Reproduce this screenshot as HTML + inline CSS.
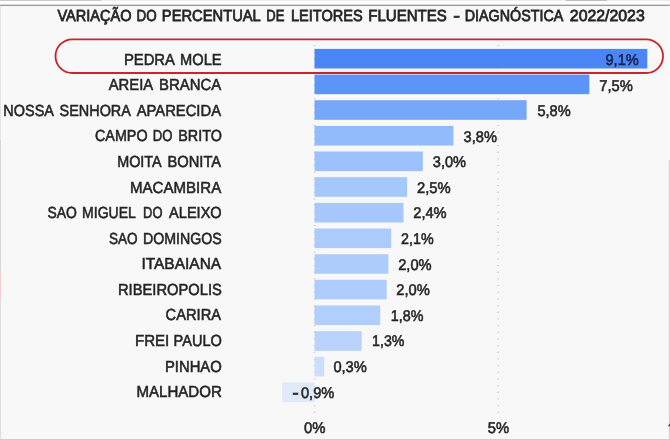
<!DOCTYPE html>
<html><head><meta charset="utf-8"><title>chart</title>
<style>
html,body{margin:0;padding:0;background:#f8f8f8;}
body{width:670px;height:440px;overflow:hidden;position:relative;font-family:"Liberation Sans",sans-serif;}
svg{position:absolute;left:0;top:0;display:block;will-change:transform;transform:translateZ(0)}
text{text-rendering:geometricPrecision;font-family:"Liberation Sans",sans-serif;font-size:16px;fill:#242424;stroke:#242424;stroke-width:0.55px;}
text.t{stroke-width:0.75px}
text.n{fill:#1a2248;stroke:#1a2248}
text.v{font-size:15.5px}
</style></head><body>
<svg width="670" height="440" viewBox="0 0 670 440">
<rect x="0" y="0" width="670" height="5" fill="#fdfdfd"/>
<rect x="0" y="0" width="101" height="1" fill="#cacaca"/>
<rect x="101" y="0" width="569" height="0.9" fill="#ebebeb"/>
<rect x="566" y="0" width="41" height="0.8" fill="#b9b0a8"/>
<rect x="0" y="4.7" width="670" height="1.2" fill="#909090"/>
<rect x="0" y="439" width="670" height="1" fill="#cecece"/>
<rect x="0" y="5.6" width="0.8" height="135" fill="#e0e0e0"/>
<rect x="0" y="140" width="0.8" height="130" fill="#cfcfcf"/>
<rect x="0" y="270" width="0.9" height="29" fill="#f2c9cd"/>
<rect x="0" y="299" width="0.8" height="140" fill="#d8d8d8"/>
<rect x="669.2" y="5.6" width="0.8" height="155" fill="#fcfcfc"/>
<rect x="668.9" y="160" width="0.9" height="279" fill="#c9c9c9"/>
<line x1="314.6" y1="45" x2="314.6" y2="413.2" stroke="#bcbcbc" stroke-width="1.4" stroke-dasharray="1 5.67"/>
<line x1="498.2" y1="45" x2="498.2" y2="413.2" stroke="#bcbcbc" stroke-width="1.4" stroke-dasharray="1 5.67"/>
<rect x="314.5" y="48.9" width="332.8" height="19.6" fill="#4c85f6"/>
<rect x="314.5" y="74.6" width="274.8" height="19.6" fill="#5c94f8"/>
<rect x="314.5" y="100.2" width="212.1" height="19.6" fill="#76a8fa"/>
<rect x="314.5" y="125.9" width="138.9" height="19.6" fill="#92bbfb"/>
<rect x="314.5" y="151.5" width="108.4" height="19.6" fill="#9dc2fb"/>
<rect x="314.5" y="177.2" width="92.6" height="19.6" fill="#a4c7fc"/>
<rect x="314.5" y="202.9" width="89.0" height="19.6" fill="#a6c8fc"/>
<rect x="314.5" y="228.5" width="76.7" height="19.6" fill="#abcbfc"/>
<rect x="314.5" y="254.2" width="73.9" height="19.6" fill="#adccfc"/>
<rect x="314.5" y="279.8" width="72.2" height="19.6" fill="#aeccfc"/>
<rect x="314.5" y="305.5" width="65.7" height="19.6" fill="#b1cefc"/>
<rect x="314.5" y="331.2" width="47.2" height="19.6" fill="#b9d3fc"/>
<rect x="314.5" y="356.8" width="9.7" height="19.6" fill="#cbdefc"/>
<rect x="282.0" y="382.5" width="32.5" height="19.6" fill="#dfe9fa"/>
<text x="57.40" y="20.50" textLength="74.11" lengthAdjust="spacingAndGlyphs" class="t">VARIAÇÃO</text>
<text x="136.47" y="20.50" textLength="20.13" lengthAdjust="spacingAndGlyphs" class="t">DO</text>
<text x="161.86" y="20.50" textLength="98.91" lengthAdjust="spacingAndGlyphs" class="t">PERCENTUAL</text>
<text x="266.29" y="20.50" textLength="18.14" lengthAdjust="spacingAndGlyphs" class="t">DE</text>
<text x="290.91" y="20.50" textLength="71.75" lengthAdjust="spacingAndGlyphs" class="t">LEITORES</text>
<text x="368.28" y="20.50" textLength="78.53" lengthAdjust="spacingAndGlyphs" class="t">FLUENTES</text>
<text x="453.33" y="20.50" textLength="6.79" lengthAdjust="spacingAndGlyphs" class="t">-</text>
<text x="464.78" y="20.50" textLength="98.55" lengthAdjust="spacingAndGlyphs" class="t">DIAGNÓSTICA</text>
<text x="569.82" y="20.50" textLength="74.94" lengthAdjust="spacingAndGlyphs" class="t">2022/2023</text>
<text x="123.91" y="64.60" textLength="51.01" lengthAdjust="spacingAndGlyphs">PEDRA</text>
<text x="180.12" y="64.60" textLength="41.43" lengthAdjust="spacingAndGlyphs">MOLE</text>
<text x="605.52" y="65.00" textLength="33.21" lengthAdjust="spacingAndGlyphs" class="n v">9,1%</text>
<text x="108.71" y="90.18" textLength="44.46" lengthAdjust="spacingAndGlyphs">AREIA</text>
<text x="159.05" y="90.18" textLength="62.22" lengthAdjust="spacingAndGlyphs">BRANCA</text>
<text x="599.31" y="90.58" textLength="33.54" lengthAdjust="spacingAndGlyphs" class="v">7,5%</text>
<text x="3.35" y="115.76" textLength="50.59" lengthAdjust="spacingAndGlyphs">NOSSA</text>
<text x="59.56" y="115.76" textLength="71.35" lengthAdjust="spacingAndGlyphs">SENHORA</text>
<text x="136.63" y="115.76" textLength="84.40" lengthAdjust="spacingAndGlyphs">APARECIDA</text>
<text x="537.39" y="116.16" textLength="33.23" lengthAdjust="spacingAndGlyphs" class="v">5,8%</text>
<text x="95.00" y="141.34" textLength="52.54" lengthAdjust="spacingAndGlyphs">CAMPO</text>
<text x="152.84" y="141.34" textLength="19.72" lengthAdjust="spacingAndGlyphs">DO</text>
<text x="178.30" y="141.34" textLength="43.56" lengthAdjust="spacingAndGlyphs">BRITO</text>
<text x="463.58" y="141.74" textLength="33.31" lengthAdjust="spacingAndGlyphs" class="v">3,8%</text>
<text x="117.15" y="166.92" textLength="44.53" lengthAdjust="spacingAndGlyphs">MOITA</text>
<text x="167.46" y="166.92" textLength="53.67" lengthAdjust="spacingAndGlyphs">BONITA</text>
<text x="432.80" y="167.32" textLength="33.28" lengthAdjust="spacingAndGlyphs" class="v">3,0%</text>
<text x="130.03" y="192.50" textLength="91.21" lengthAdjust="spacingAndGlyphs">MACAMBIRA</text>
<text x="417.02" y="192.90" textLength="33.70" lengthAdjust="spacingAndGlyphs" class="v">2,5%</text>
<text x="47.46" y="218.08" textLength="29.36" lengthAdjust="spacingAndGlyphs">SAO</text>
<text x="82.11" y="218.08" textLength="53.77" lengthAdjust="spacingAndGlyphs">MIGUEL</text>
<text x="143.08" y="218.08" textLength="19.33" lengthAdjust="spacingAndGlyphs">DO</text>
<text x="169.10" y="218.08" textLength="52.56" lengthAdjust="spacingAndGlyphs">ALEIXO</text>
<text x="413.29" y="218.48" textLength="33.35" lengthAdjust="spacingAndGlyphs" class="v">2,4%</text>
<text x="108.98" y="243.66" textLength="28.66" lengthAdjust="spacingAndGlyphs">SAO</text>
<text x="142.98" y="243.66" textLength="78.85" lengthAdjust="spacingAndGlyphs">DOMINGOS</text>
<text x="401.07" y="244.06" textLength="32.55" lengthAdjust="spacingAndGlyphs" class="v">2,1%</text>
<text x="141.43" y="269.24" textLength="79.77" lengthAdjust="spacingAndGlyphs">ITABAIANA</text>
<text x="398.16" y="269.64" textLength="33.48" lengthAdjust="spacingAndGlyphs" class="v">2,0%</text>
<text x="117.96" y="294.82" textLength="103.88" lengthAdjust="spacingAndGlyphs">RIBEIROPOLIS</text>
<text x="396.30" y="295.22" textLength="33.52" lengthAdjust="spacingAndGlyphs" class="v">2,0%</text>
<text x="165.59" y="320.40" textLength="55.45" lengthAdjust="spacingAndGlyphs">CARIRA</text>
<text x="390.77" y="320.80" textLength="32.64" lengthAdjust="spacingAndGlyphs" class="v">1,8%</text>
<text x="134.98" y="345.98" textLength="34.31" lengthAdjust="spacingAndGlyphs">FREI</text>
<text x="173.56" y="345.98" textLength="48.29" lengthAdjust="spacingAndGlyphs">PAULO</text>
<text x="372.08" y="346.38" textLength="32.34" lengthAdjust="spacingAndGlyphs" class="v">1,3%</text>
<text x="164.96" y="371.56" textLength="56.77" lengthAdjust="spacingAndGlyphs">PINHAO</text>
<text x="333.38" y="371.96" textLength="33.46" lengthAdjust="spacingAndGlyphs" class="v">0,3%</text>
<text x="136.41" y="397.14" textLength="85.41" lengthAdjust="spacingAndGlyphs">MALHADOR</text>
<text x="292.36" y="397.54" textLength="6.53" lengthAdjust="spacingAndGlyphs">-</text>
<text x="300.96" y="397.54" textLength="33.38" lengthAdjust="spacingAndGlyphs" class="v">0,9%</text>
<text x="304.10" y="433.40" textLength="21.46" lengthAdjust="spacingAndGlyphs" class="v">0%</text>
<text x="487.87" y="433.40" textLength="21.35" lengthAdjust="spacingAndGlyphs" class="v">5%</text>
<path d="M668.3 425.4 L670 423.5 L670 425.9 L668.3 426.6 Z" fill="#3a3a3a"/>
<rect x="55.5" y="39.3" width="607.5" height="33.7" rx="16.85" ry="16.85" fill="none" stroke="#c9242f" stroke-width="1.8"/>
</svg></body></html>
